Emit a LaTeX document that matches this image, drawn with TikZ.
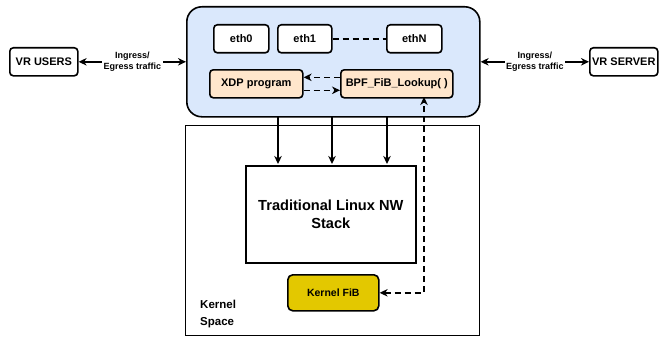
\documentclass[tikz,border=0pt]{standalone}
\usepackage{fontspec}
\setmainfont{Liberation Sans}
\usetikzlibrary{arrows.meta,positioning}
\definecolor{bluefill}{HTML}{DAE8FC}
\definecolor{orangefill}{HTML}{FFE6CC}
\definecolor{goldfill}{HTML}{E3C800}
\tikzset{
  box/.style={draw=black,line width=1.6pt,rounded corners=3.5pt,fill=white,font=\bfseries\fontsize{11}{12}\selectfont,inner sep=0pt,anchor=north west},
  tip/.tip={Stealth[length=8pt,width=7.5pt,inset=2.5pt]},
  conn/.style={line width=1.6pt,-tip},
  dconn/.style={conn,dash pattern=on 6pt off 4pt},
  lbl/.style={font=\bfseries\fontsize{9}{11}\selectfont,align=center,fill=white,inner sep=1.5pt},
}
\begin{document}
\begin{tikzpicture}[x=1pt,y=-1pt]
\useasboundingbox (0,0) rectangle (663,337);
% containers
\node[draw=black,line width=1.6pt,rounded corners=15pt,fill=bluefill,minimum width=293pt,minimum height=110pt,anchor=north west,inner sep=0pt] (host) at (186,6) {};
\node[draw=black,line width=1.4pt,minimum width=294pt,minimum height=210pt,anchor=north west,inner sep=0pt] (kernel) at (185,125) {};
% interfaces
\node[box,minimum width=55pt,minimum height=28pt] (eth0) at (213,24) {eth0};
\node[box,minimum width=54pt,minimum height=28pt] (eth1) at (277,24) {eth1};
\node[box,minimum width=55pt,minimum height=28pt] (ethN) at (386,24) {ethN};
\draw[line width=1.6pt,dash pattern=on 6pt off 4pt] (eth1) -- (ethN);
% xdp and lookup
\node[box,fill=orangefill,minimum width=93pt,minimum height=28pt] (xdp) at (209,69) {XDP program};
\node[box,fill=orangefill,minimum width=112pt,minimum height=28pt] (bpf) at (340,69) {BPF\_FiB\_Lookup( )};
\draw[dconn] ([yshift=6.5pt]bpf.west) -- ([yshift=6.5pt]xdp.east);
\draw[dconn] ([yshift=-6.5pt]xdp.east) -- ([yshift=-6.5pt]bpf.west);
% end points
\node[box,minimum width=68pt,minimum height=28pt] (users) at (9,47) {VR USERS};
\node[box,minimum width=68pt,minimum height=28pt] (server) at (589,47) {VR SERVER};
\draw[conn,tip-tip] (users.east) -- node[lbl] {Ingress/\\Egress traffic} (users.east -| host.west);
\draw[conn,tip-tip] (server.west -| host.east) -- node[lbl] {Ingress/\\Egress traffic} (server.west);
% stack
\node[draw=black,line width=1.6pt,minimum width=170pt,minimum height=97pt,anchor=north west,inner sep=0pt,align=center,font=\bfseries\fontsize{14.6}{18}\selectfont] (stack) at (245,165) {Traditional Linux NW\\Stack};
\foreach \xx in {278,332,387} {
  \draw[conn] (\xx,116) coordinate (s\xx) -- (\xx,164) coordinate (e\xx);
}
% kernel fib
\node[box,fill=goldfill,rounded corners=5pt,minimum width=91pt,minimum height=36pt,font=\bfseries\fontsize{10.5}{12}\selectfont] (fib) at (287,274) {Kernel FiB};
\coordinate (bpfin) at (424,97);
\draw[dconn,tip-tip] (fib.east) -| (bpfin);
% label
\node[font=\bfseries\fontsize{11.5}{16.5}\selectfont,align=left,anchor=north west,inner sep=0pt] (ks) at (200,300) {Kernel\\Space};
\end{tikzpicture}
\end{document}
